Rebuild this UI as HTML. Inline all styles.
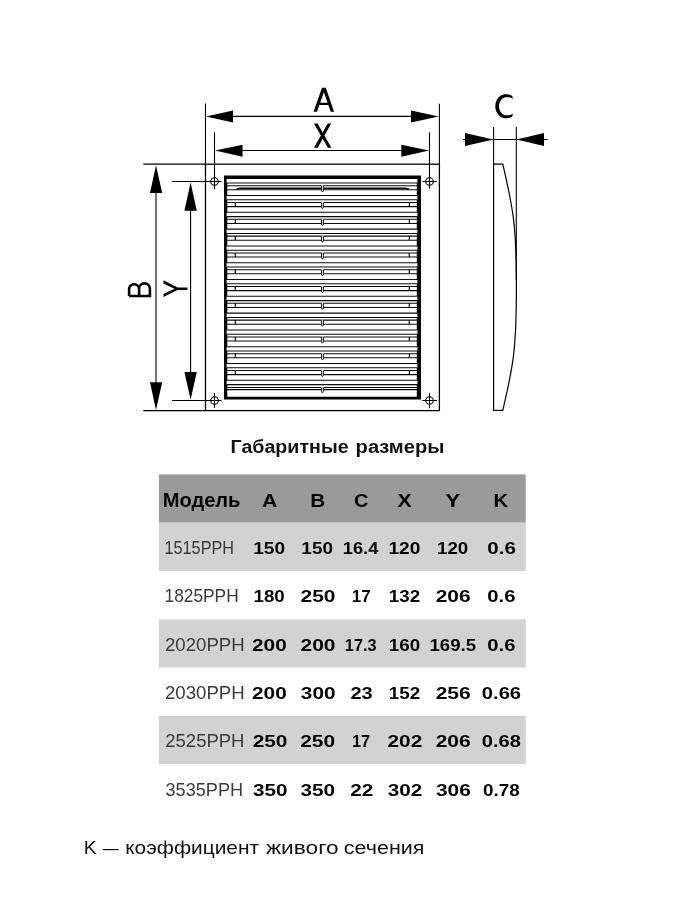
<!DOCTYPE html>
<html><head><meta charset="utf-8">
<style>
html,body{margin:0;padding:0;background:#fff;}
body{width:675px;height:900px;position:relative;overflow:hidden;}
svg{position:absolute;left:0;top:0;will-change:transform;}
text{font-family:"Liberation Sans",sans-serif;}
</style></head><body>
<svg width="675" height="900" viewBox="0 0 675 900">
<rect x="205.5" y="164.2" width="233.9" height="246.4" fill="none" stroke="#000" stroke-width="1.3"/>
<line x1="205.5" y1="103.5" x2="205.5" y2="164.4" stroke="#000" stroke-width="1.1"/>
<line x1="439.4" y1="103.7" x2="439.4" y2="164.4" stroke="#000" stroke-width="1.1"/>
<line x1="143.3" y1="164.2" x2="205.5" y2="164.2" stroke="#000" stroke-width="1.3"/>
<line x1="143.3" y1="410.6" x2="205.5" y2="410.6" stroke="#000" stroke-width="1.3"/>
<line x1="220" y1="116.4" x2="425" y2="116.4" stroke="#000" stroke-width="1.2"/>
<polygon points="206,116.4 233,110.4 233,122.4" fill="#000"/>
<polygon points="438.9,116.4 411,110.4 411,122.4" fill="#000"/>
<line x1="214.5" y1="132" x2="214.5" y2="189.3" stroke="#000" stroke-width="1.1"/>
<line x1="429.5" y1="132.4" x2="429.5" y2="188.7" stroke="#000" stroke-width="1.1"/>
<line x1="230" y1="150.5" x2="415" y2="150.5" stroke="#000" stroke-width="1.2"/>
<polygon points="215,150.5 242.5,144.7 242.5,156.7" fill="#000"/>
<polygon points="429,150.5 401.3,144.7 401.3,156.7" fill="#000"/>
<line x1="156" y1="180" x2="156" y2="395" stroke="#000" stroke-width="1.1"/>
<polygon points="156,165.3 150,193 162.2,193" fill="#000"/>
<polygon points="156,409.9 150,382.2 162.2,382.2" fill="#000"/>
<line x1="172" y1="181.5" x2="221.5" y2="181.5" stroke="#000" stroke-width="1.1"/>
<line x1="172" y1="400.5" x2="221.5" y2="400.5" stroke="#000" stroke-width="1.1"/>
<line x1="190.6" y1="195" x2="190.6" y2="385" stroke="#000" stroke-width="1.1"/>
<polygon points="190.6,182.4 184.4,210.7 196.8,210.7" fill="#000"/>
<polygon points="190.6,399.8 184.4,372 196.8,372" fill="#000"/>
<circle cx="214.5" cy="181.5" r="3.8" fill="none" stroke="#000" stroke-width="1.1"/>
<circle cx="429.5" cy="181.5" r="3.8" fill="none" stroke="#000" stroke-width="1.1"/>
<circle cx="214.5" cy="400.5" r="3.8" fill="none" stroke="#000" stroke-width="1.1"/>
<circle cx="429.5" cy="400.5" r="3.8" fill="none" stroke="#000" stroke-width="1.1"/>
<line x1="422.4" y1="181.5" x2="436.7" y2="181.5" stroke="#000" stroke-width="1"/>
<line x1="214.5" y1="392.9" x2="214.5" y2="408" stroke="#000" stroke-width="1"/>
<line x1="422.2" y1="400.5" x2="437" y2="400.5" stroke="#000" stroke-width="1"/>
<line x1="429.5" y1="393" x2="429.5" y2="408.2" stroke="#000" stroke-width="1"/>
<line x1="493.6" y1="127" x2="493.6" y2="164.2" stroke="#000" stroke-width="1.1"/>
<line x1="516.3" y1="127" x2="516.3" y2="280" stroke="#000" stroke-width="1.1"/>
<line x1="463" y1="139.5" x2="547.6" y2="139.5" stroke="#000" stroke-width="1.1"/>
<polygon points="493.3,139.5 465,133 465,145.9" fill="#000"/>
<polygon points="516.6,139.5 544,133 544,145.9" fill="#000"/>
<path d="M493.6,164.2 H502.8 C513.5,210 516.4,226 516.4,287.25 C516.4,348.5 513.5,364.5 502.8,410.3 H493.6 Z" fill="none" stroke="#000" stroke-width="1.2"/>
<path d="M224,175.4 H421 V399.5 H224 Z M226.6,179 V396.8 H417.4 V179 Z" fill="#000" fill-rule="evenodd"/>
<rect x="226" y="183.00" width="1.3" height="12.5" fill="#000"/>
<rect x="416.8" y="183.00" width="1.2" height="12.5" fill="#000"/>
<line x1="226.6" y1="183.0" x2="417.4" y2="183.0" stroke="#0a0a0a" stroke-width="1.05"/>
<line x1="226.6" y1="185.7" x2="417.4" y2="185.7" stroke="#0a0a0a" stroke-width="1.05"/>
<line x1="226.6" y1="189.8" x2="417.4" y2="189.8" stroke="#0a0a0a" stroke-width="1.05"/>
<line x1="226.6" y1="195.5" x2="417.4" y2="195.5" stroke="#0a0a0a" stroke-width="1.05"/>
<path d="M236.5,189.50 Q238.5,188.30 241,188.30 H404 Q406.5,188.30 409,189.50" fill="none" stroke="#0a0a0a" stroke-width="1.6"/>
<rect x="321.1" y="185.30" width="2.8" height="6.30" fill="#fff"/>
<path d="M321.6,185.70 V190.70 Q321.6,191.60 322.4,191.60 H322.6 Q323.4,191.60 323.4,190.70 V185.70" fill="none" stroke="#0a0a0a" stroke-width="1"/>
<rect x="226" y="199.80" width="1.3" height="12.5" fill="#000"/>
<rect x="416.8" y="199.80" width="1.2" height="12.5" fill="#000"/>
<line x1="226.6" y1="199.8" x2="417.4" y2="199.8" stroke="#0a0a0a" stroke-width="1.05"/>
<line x1="226.6" y1="202.5" x2="417.4" y2="202.5" stroke="#0a0a0a" stroke-width="1.05"/>
<line x1="226.6" y1="206.6" x2="417.4" y2="206.6" stroke="#0a0a0a" stroke-width="1.05"/>
<line x1="226.6" y1="212.3" x2="417.4" y2="212.3" stroke="#0a0a0a" stroke-width="1.05"/>
<line x1="235.3" y1="202.5" x2="235.3" y2="206.6" stroke="#0a0a0a" stroke-width="1.2"/>
<line x1="409.3" y1="202.5" x2="409.3" y2="206.6" stroke="#0a0a0a" stroke-width="1.2"/>
<rect x="321.1" y="202.10" width="2.8" height="6.30" fill="#fff"/>
<path d="M321.6,202.50 V207.50 Q321.6,208.40 322.4,208.40 H322.6 Q323.4,208.40 323.4,207.50 V202.50" fill="none" stroke="#0a0a0a" stroke-width="1"/>
<rect x="226" y="216.60" width="1.3" height="12.5" fill="#000"/>
<rect x="416.8" y="216.60" width="1.2" height="12.5" fill="#000"/>
<line x1="226.6" y1="216.6" x2="417.4" y2="216.6" stroke="#0a0a0a" stroke-width="1.05"/>
<line x1="226.6" y1="219.3" x2="417.4" y2="219.3" stroke="#0a0a0a" stroke-width="1.05"/>
<line x1="226.6" y1="223.4" x2="417.4" y2="223.4" stroke="#0a0a0a" stroke-width="1.05"/>
<line x1="226.6" y1="229.1" x2="417.4" y2="229.1" stroke="#0a0a0a" stroke-width="1.05"/>
<line x1="235.3" y1="219.3" x2="235.3" y2="223.4" stroke="#0a0a0a" stroke-width="1.2"/>
<line x1="409.3" y1="219.3" x2="409.3" y2="223.4" stroke="#0a0a0a" stroke-width="1.2"/>
<rect x="321.1" y="218.90" width="2.8" height="6.30" fill="#fff"/>
<path d="M321.6,219.30 V224.30 Q321.6,225.20 322.4,225.20 H322.6 Q323.4,225.20 323.4,224.30 V219.30" fill="none" stroke="#0a0a0a" stroke-width="1"/>
<rect x="226" y="233.40" width="1.3" height="12.5" fill="#000"/>
<rect x="416.8" y="233.40" width="1.2" height="12.5" fill="#000"/>
<line x1="226.6" y1="233.4" x2="417.4" y2="233.4" stroke="#0a0a0a" stroke-width="1.05"/>
<line x1="226.6" y1="236.1" x2="417.4" y2="236.1" stroke="#0a0a0a" stroke-width="1.05"/>
<line x1="226.6" y1="240.2" x2="417.4" y2="240.2" stroke="#0a0a0a" stroke-width="1.05"/>
<line x1="226.6" y1="245.9" x2="417.4" y2="245.9" stroke="#0a0a0a" stroke-width="1.05"/>
<line x1="235.3" y1="236.1" x2="235.3" y2="240.2" stroke="#0a0a0a" stroke-width="1.2"/>
<line x1="409.3" y1="236.1" x2="409.3" y2="240.2" stroke="#0a0a0a" stroke-width="1.2"/>
<rect x="321.1" y="235.70" width="2.8" height="6.30" fill="#fff"/>
<path d="M321.6,236.10 V241.10 Q321.6,242.00 322.4,242.00 H322.6 Q323.4,242.00 323.4,241.10 V236.10" fill="none" stroke="#0a0a0a" stroke-width="1"/>
<rect x="226" y="250.20" width="1.3" height="12.5" fill="#000"/>
<rect x="416.8" y="250.20" width="1.2" height="12.5" fill="#000"/>
<line x1="226.6" y1="250.2" x2="417.4" y2="250.2" stroke="#0a0a0a" stroke-width="1.05"/>
<line x1="226.6" y1="252.9" x2="417.4" y2="252.9" stroke="#0a0a0a" stroke-width="1.05"/>
<line x1="226.6" y1="257.0" x2="417.4" y2="257.0" stroke="#0a0a0a" stroke-width="1.05"/>
<line x1="226.6" y1="262.7" x2="417.4" y2="262.7" stroke="#0a0a0a" stroke-width="1.05"/>
<line x1="235.3" y1="252.9" x2="235.3" y2="257.0" stroke="#0a0a0a" stroke-width="1.2"/>
<line x1="409.3" y1="252.9" x2="409.3" y2="257.0" stroke="#0a0a0a" stroke-width="1.2"/>
<rect x="321.1" y="252.50" width="2.8" height="6.30" fill="#fff"/>
<path d="M321.6,252.90 V257.90 Q321.6,258.80 322.4,258.80 H322.6 Q323.4,258.80 323.4,257.90 V252.90" fill="none" stroke="#0a0a0a" stroke-width="1"/>
<rect x="226" y="267.00" width="1.3" height="12.5" fill="#000"/>
<rect x="416.8" y="267.00" width="1.2" height="12.5" fill="#000"/>
<line x1="226.6" y1="267.0" x2="417.4" y2="267.0" stroke="#0a0a0a" stroke-width="1.05"/>
<line x1="226.6" y1="269.7" x2="417.4" y2="269.7" stroke="#0a0a0a" stroke-width="1.05"/>
<line x1="226.6" y1="273.8" x2="417.4" y2="273.8" stroke="#0a0a0a" stroke-width="1.05"/>
<line x1="226.6" y1="279.5" x2="417.4" y2="279.5" stroke="#0a0a0a" stroke-width="1.05"/>
<line x1="235.3" y1="269.7" x2="235.3" y2="273.8" stroke="#0a0a0a" stroke-width="1.2"/>
<line x1="409.3" y1="269.7" x2="409.3" y2="273.8" stroke="#0a0a0a" stroke-width="1.2"/>
<rect x="321.1" y="269.30" width="2.8" height="6.30" fill="#fff"/>
<path d="M321.6,269.70 V274.70 Q321.6,275.60 322.4,275.60 H322.6 Q323.4,275.60 323.4,274.70 V269.70" fill="none" stroke="#0a0a0a" stroke-width="1"/>
<rect x="226" y="283.80" width="1.3" height="12.5" fill="#000"/>
<rect x="416.8" y="283.80" width="1.2" height="12.5" fill="#000"/>
<line x1="226.6" y1="283.8" x2="417.4" y2="283.8" stroke="#0a0a0a" stroke-width="1.05"/>
<line x1="226.6" y1="286.5" x2="417.4" y2="286.5" stroke="#0a0a0a" stroke-width="1.05"/>
<line x1="226.6" y1="290.6" x2="417.4" y2="290.6" stroke="#0a0a0a" stroke-width="1.05"/>
<line x1="226.6" y1="296.3" x2="417.4" y2="296.3" stroke="#0a0a0a" stroke-width="1.05"/>
<line x1="235.3" y1="286.5" x2="235.3" y2="290.6" stroke="#0a0a0a" stroke-width="1.2"/>
<line x1="409.3" y1="286.5" x2="409.3" y2="290.6" stroke="#0a0a0a" stroke-width="1.2"/>
<rect x="321.1" y="286.10" width="2.8" height="6.30" fill="#fff"/>
<path d="M321.6,286.50 V291.50 Q321.6,292.40 322.4,292.40 H322.6 Q323.4,292.40 323.4,291.50 V286.50" fill="none" stroke="#0a0a0a" stroke-width="1"/>
<rect x="226" y="300.60" width="1.3" height="12.5" fill="#000"/>
<rect x="416.8" y="300.60" width="1.2" height="12.5" fill="#000"/>
<line x1="226.6" y1="300.6" x2="417.4" y2="300.6" stroke="#0a0a0a" stroke-width="1.05"/>
<line x1="226.6" y1="303.3" x2="417.4" y2="303.3" stroke="#0a0a0a" stroke-width="1.05"/>
<line x1="226.6" y1="307.4" x2="417.4" y2="307.4" stroke="#0a0a0a" stroke-width="1.05"/>
<line x1="226.6" y1="313.1" x2="417.4" y2="313.1" stroke="#0a0a0a" stroke-width="1.05"/>
<line x1="235.3" y1="303.3" x2="235.3" y2="307.4" stroke="#0a0a0a" stroke-width="1.2"/>
<line x1="409.3" y1="303.3" x2="409.3" y2="307.4" stroke="#0a0a0a" stroke-width="1.2"/>
<rect x="321.1" y="302.90" width="2.8" height="6.30" fill="#fff"/>
<path d="M321.6,303.30 V308.30 Q321.6,309.20 322.4,309.20 H322.6 Q323.4,309.20 323.4,308.30 V303.30" fill="none" stroke="#0a0a0a" stroke-width="1"/>
<rect x="226" y="317.40" width="1.3" height="12.5" fill="#000"/>
<rect x="416.8" y="317.40" width="1.2" height="12.5" fill="#000"/>
<line x1="226.6" y1="317.4" x2="417.4" y2="317.4" stroke="#0a0a0a" stroke-width="1.05"/>
<line x1="226.6" y1="320.1" x2="417.4" y2="320.1" stroke="#0a0a0a" stroke-width="1.05"/>
<line x1="226.6" y1="324.2" x2="417.4" y2="324.2" stroke="#0a0a0a" stroke-width="1.05"/>
<line x1="226.6" y1="329.9" x2="417.4" y2="329.9" stroke="#0a0a0a" stroke-width="1.05"/>
<line x1="235.3" y1="320.1" x2="235.3" y2="324.2" stroke="#0a0a0a" stroke-width="1.2"/>
<line x1="409.3" y1="320.1" x2="409.3" y2="324.2" stroke="#0a0a0a" stroke-width="1.2"/>
<rect x="321.1" y="319.70" width="2.8" height="6.30" fill="#fff"/>
<path d="M321.6,320.10 V325.10 Q321.6,326.00 322.4,326.00 H322.6 Q323.4,326.00 323.4,325.10 V320.10" fill="none" stroke="#0a0a0a" stroke-width="1"/>
<rect x="226" y="334.20" width="1.3" height="12.5" fill="#000"/>
<rect x="416.8" y="334.20" width="1.2" height="12.5" fill="#000"/>
<line x1="226.6" y1="334.2" x2="417.4" y2="334.2" stroke="#0a0a0a" stroke-width="1.05"/>
<line x1="226.6" y1="336.9" x2="417.4" y2="336.9" stroke="#0a0a0a" stroke-width="1.05"/>
<line x1="226.6" y1="341.0" x2="417.4" y2="341.0" stroke="#0a0a0a" stroke-width="1.05"/>
<line x1="226.6" y1="346.7" x2="417.4" y2="346.7" stroke="#0a0a0a" stroke-width="1.05"/>
<line x1="235.3" y1="336.9" x2="235.3" y2="341.0" stroke="#0a0a0a" stroke-width="1.2"/>
<line x1="409.3" y1="336.9" x2="409.3" y2="341.0" stroke="#0a0a0a" stroke-width="1.2"/>
<rect x="321.1" y="336.50" width="2.8" height="6.30" fill="#fff"/>
<path d="M321.6,336.90 V341.90 Q321.6,342.80 322.4,342.80 H322.6 Q323.4,342.80 323.4,341.90 V336.90" fill="none" stroke="#0a0a0a" stroke-width="1"/>
<rect x="226" y="351.00" width="1.3" height="12.5" fill="#000"/>
<rect x="416.8" y="351.00" width="1.2" height="12.5" fill="#000"/>
<line x1="226.6" y1="351.0" x2="417.4" y2="351.0" stroke="#0a0a0a" stroke-width="1.05"/>
<line x1="226.6" y1="353.7" x2="417.4" y2="353.7" stroke="#0a0a0a" stroke-width="1.05"/>
<line x1="226.6" y1="357.8" x2="417.4" y2="357.8" stroke="#0a0a0a" stroke-width="1.05"/>
<line x1="226.6" y1="363.5" x2="417.4" y2="363.5" stroke="#0a0a0a" stroke-width="1.05"/>
<line x1="235.3" y1="353.7" x2="235.3" y2="357.8" stroke="#0a0a0a" stroke-width="1.2"/>
<line x1="409.3" y1="353.7" x2="409.3" y2="357.8" stroke="#0a0a0a" stroke-width="1.2"/>
<rect x="321.1" y="353.30" width="2.8" height="6.30" fill="#fff"/>
<path d="M321.6,353.70 V358.70 Q321.6,359.60 322.4,359.60 H322.6 Q323.4,359.60 323.4,358.70 V353.70" fill="none" stroke="#0a0a0a" stroke-width="1"/>
<rect x="226" y="367.80" width="1.3" height="12.5" fill="#000"/>
<rect x="416.8" y="367.80" width="1.2" height="12.5" fill="#000"/>
<line x1="226.6" y1="367.8" x2="417.4" y2="367.8" stroke="#0a0a0a" stroke-width="1.05"/>
<line x1="226.6" y1="370.5" x2="417.4" y2="370.5" stroke="#0a0a0a" stroke-width="1.05"/>
<line x1="226.6" y1="374.6" x2="417.4" y2="374.6" stroke="#0a0a0a" stroke-width="1.05"/>
<line x1="226.6" y1="380.3" x2="417.4" y2="380.3" stroke="#0a0a0a" stroke-width="1.05"/>
<line x1="235.3" y1="370.5" x2="235.3" y2="374.6" stroke="#0a0a0a" stroke-width="1.2"/>
<line x1="409.3" y1="370.5" x2="409.3" y2="374.6" stroke="#0a0a0a" stroke-width="1.2"/>
<rect x="321.1" y="370.10" width="2.8" height="6.30" fill="#fff"/>
<path d="M321.6,370.50 V375.50 Q321.6,376.40 322.4,376.40 H322.6 Q323.4,376.40 323.4,375.50 V370.50" fill="none" stroke="#0a0a0a" stroke-width="1"/>
<rect x="226" y="384.60" width="1.3" height="13" fill="#000"/>
<rect x="416.8" y="384.60" width="1.2" height="13" fill="#000"/>
<line x1="226.6" y1="384.6" x2="417.4" y2="384.6" stroke="#0a0a0a" stroke-width="1.05"/>
<line x1="226.6" y1="387.4" x2="417.4" y2="387.4" stroke="#0a0a0a" stroke-width="1.05"/>
<line x1="226.6" y1="389.6" x2="417.4" y2="389.6" stroke="#0a0a0a" stroke-width="1.05"/>
<rect x="321.1" y="387.00" width="2.8" height="5.60" fill="#fff"/>
<path d="M321.6,387.40 V391.70 Q321.6,392.60 322.4,392.60 H322.6 Q323.4,392.60 323.4,391.70 V387.40" fill="none" stroke="#0a0a0a" stroke-width="1"/>

<path d="M313.5,111.7 L322,87.8 L325.8,87.8 L334.1,111.7 L330.7,111.7 L328.3,104.9 L319.4,104.9 L317,111.7 Z M320.2,102.7 L327.6,102.7 L323.9,92.2 Z" fill="#000" fill-rule="evenodd"/>
<path d="M313.9,123.6 L317.5,123.6 L331.4,147.7 L327.9,147.7 Z M327.7,123.6 L331.2,123.6 L317.7,147.7 L313.9,147.7 Z" fill="#000"/>
<path d="M163.5,280.2 L177.6,287.4 L187.5,287.4 L187.5,289.9 L177.6,289.9 L163.5,297 L163.5,293.9 L174.5,288.65 L163.5,283.4 Z" fill="#000"/>
<path d="M129.1,296 H149.9 V288.8 A5.4,5.4 0 0 0 139.1,288.8 V296 M139.1,289.2 A5,5 0 0 0 129.1,289.2 V296" fill="none" stroke="#000" stroke-width="2.6"/>
<clipPath id="cc"><rect x="480" y="80" width="32.6" height="50"/></clipPath><path clip-path="url(#cc)" fill-rule="evenodd" fill="#000" d="M515.50,106.25 L515.49,107.49 L515.46,108.35 L515.40,109.12 L515.33,109.82 L515.23,110.47 L515.12,111.09 L514.98,111.68 L514.82,112.23 L514.64,112.76 L514.44,113.26 L514.22,113.74 L513.98,114.19 L513.72,114.62 L513.44,115.02 L513.14,115.40 L512.81,115.76 L512.47,116.09 L512.11,116.40 L511.73,116.69 L511.33,116.95 L510.90,117.18 L510.46,117.40 L509.99,117.58 L509.49,117.75 L508.97,117.89 L508.42,118.00 L507.82,118.09 L507.18,118.15 L506.44,118.19 L505.40,118.20 L504.87,118.18 L504.34,118.13 L503.82,118.05 L503.30,117.94 L502.79,117.79 L502.28,117.62 L501.78,117.41 L501.29,117.17 L500.81,116.90 L500.35,116.60 L499.90,116.27 L499.46,115.92 L499.04,115.54 L498.64,115.13 L498.26,114.70 L497.89,114.25 L497.55,113.77 L497.23,113.27 L496.93,112.76 L496.65,112.22 L496.40,111.68 L496.17,111.11 L495.97,110.53 L495.79,109.94 L495.64,109.34 L495.52,108.73 L495.42,108.12 L495.36,107.50 L495.31,106.88 L495.30,106.25 L495.31,105.62 L495.36,105.00 L495.42,104.38 L495.52,103.77 L495.64,103.16 L495.79,102.56 L495.97,101.97 L496.17,101.39 L496.40,100.82 L496.65,100.28 L496.93,99.74 L497.23,99.23 L497.55,98.73 L497.89,98.25 L498.26,97.80 L498.64,97.37 L499.04,96.96 L499.46,96.58 L499.90,96.23 L500.35,95.90 L500.81,95.60 L501.29,95.33 L501.78,95.09 L502.28,94.88 L502.79,94.71 L503.30,94.56 L503.82,94.45 L504.34,94.37 L504.87,94.32 L505.40,94.30 L506.44,94.31 L507.18,94.35 L507.82,94.41 L508.42,94.50 L508.97,94.61 L509.49,94.75 L509.99,94.92 L510.46,95.10 L510.90,95.32 L511.33,95.55 L511.73,95.81 L512.11,96.10 L512.47,96.41 L512.81,96.74 L513.14,97.10 L513.44,97.48 L513.72,97.88 L513.98,98.31 L514.22,98.76 L514.44,99.24 L514.64,99.74 L514.82,100.27 L514.98,100.82 L515.12,101.41 L515.23,102.03 L515.33,102.68 L515.40,103.38 L515.46,104.15 L515.49,105.01 Z M514.20,106.25 L514.19,107.52 L514.17,108.27 L514.14,108.89 L514.09,109.44 L514.03,109.95 L513.95,110.41 L513.86,110.84 L513.76,111.25 L513.64,111.63 L513.51,111.98 L513.36,112.32 L513.20,112.64 L513.02,112.93 L512.84,113.21 L512.63,113.47 L512.41,113.72 L512.18,113.94 L511.93,114.15 L511.67,114.34 L511.39,114.52 L511.09,114.68 L510.77,114.82 L510.43,114.94 L510.07,115.05 L509.69,115.14 L509.27,115.22 L508.81,115.28 L508.29,115.32 L507.66,115.34 L506.60,115.35 L506.20,115.34 L505.81,115.30 L505.41,115.24 L505.02,115.15 L504.63,115.04 L504.25,114.90 L503.88,114.75 L503.51,114.56 L503.15,114.36 L502.80,114.13 L502.46,113.88 L502.13,113.61 L501.82,113.32 L501.51,113.01 L501.23,112.68 L500.95,112.34 L500.69,111.98 L500.45,111.60 L500.23,111.21 L500.02,110.80 L499.83,110.38 L499.66,109.95 L499.50,109.51 L499.37,109.06 L499.26,108.61 L499.17,108.14 L499.09,107.67 L499.04,107.20 L499.01,106.73 L499.00,106.25 L499.01,105.77 L499.04,105.30 L499.09,104.83 L499.17,104.36 L499.26,103.89 L499.37,103.44 L499.50,102.99 L499.66,102.55 L499.83,102.12 L500.02,101.70 L500.23,101.29 L500.45,100.90 L500.69,100.52 L500.95,100.16 L501.23,99.82 L501.51,99.49 L501.82,99.18 L502.13,98.89 L502.46,98.62 L502.80,98.37 L503.15,98.14 L503.51,97.94 L503.88,97.75 L504.25,97.60 L504.63,97.46 L505.02,97.35 L505.41,97.26 L505.81,97.20 L506.20,97.16 L506.60,97.15 L507.66,97.16 L508.29,97.18 L508.81,97.22 L509.27,97.28 L509.69,97.36 L510.07,97.45 L510.43,97.56 L510.77,97.68 L511.09,97.82 L511.39,97.98 L511.67,98.16 L511.93,98.35 L512.18,98.56 L512.41,98.78 L512.63,99.03 L512.84,99.29 L513.02,99.57 L513.20,99.86 L513.36,100.18 L513.51,100.52 L513.64,100.87 L513.76,101.25 L513.86,101.66 L513.95,102.09 L514.03,102.55 L514.09,103.06 L514.14,103.61 L514.17,104.23 L514.19,104.98 Z"/>

<rect x="158.9" y="474.4" width="366.8" height="48.3" fill="#9a9a9a"/><rect x="158.9" y="522.70" width="366.8" height="48.3" fill="#d2d2d2"/><rect x="158.9" y="619.30" width="366.8" height="48.3" fill="#d2d2d2"/><rect x="158.9" y="715.90" width="366.8" height="48.3" fill="#d2d2d2"/>
<text transform="matrix(1.0340,0,0,1,230.51,0)" x="0" y="453.3" font-weight="bold" font-size="19" fill="#111">Габаритные</text>
<text transform="matrix(1.0609,0,0,1,355.57,0)" x="0" y="453.3" font-weight="bold" font-size="19" fill="#111">размеры</text>
<text transform="matrix(1.0447,0,0,1,83.73,0)" x="0" y="854.0" font-weight="normal" font-size="18.6" fill="#111">K</text>
<text transform="matrix(0.8430,0,0,1,103.10,0)" x="0" y="854.0" font-weight="normal" font-size="18.6" fill="#111">—</text>
<text transform="matrix(1.1219,0,0,1,125.20,0)" x="0" y="854.0" font-weight="normal" font-size="18.6" fill="#111">коэффициент</text>
<text transform="matrix(1.2196,0,0,1,265.95,0)" x="0" y="854.0" font-weight="normal" font-size="18.6" fill="#111">живого</text>
<text transform="matrix(1.1542,0,0,1,343.83,0)" x="0" y="854.0" font-weight="normal" font-size="18.6" fill="#111">сечения</text>
<text transform="matrix(1.0151,0,0,1,162.70,0)" x="0" y="506.7" font-weight="bold" font-size="19.8" fill="#050505">Модель</text>
<text transform="matrix(1.1029,0,0,1,262.05,0)" x="0" y="506.7" font-weight="bold" font-size="19.2" fill="#050505">A</text>
<text transform="matrix(1.0809,0,0,1,310.15,0)" x="0" y="506.7" font-weight="bold" font-size="19.2" fill="#050505">B</text>
<text transform="matrix(1.0480,0,0,1,354.11,0)" x="0" y="506.7" font-weight="bold" font-size="19.2" fill="#050505">C</text>
<text transform="matrix(1.1071,0,0,1,397.52,0)" x="0" y="506.7" font-weight="bold" font-size="19.2" fill="#050505">X</text>
<text transform="matrix(1.1794,0,0,1,445.26,0)" x="0" y="506.7" font-weight="bold" font-size="19.2" fill="#050505">Y</text>
<text transform="matrix(1.0586,0,0,1,493.58,0)" x="0" y="506.7" font-weight="bold" font-size="19.2" fill="#050505">K</text>
<text transform="matrix(0.9289,0,0,1,164.52,0)" x="0" y="554.2" font-weight="normal" font-size="17.5" fill="#3a3a3a">1515PPH</text>
<text transform="matrix(1.1126,0,0,1,253.15,0)" x="0" y="554.2" font-weight="bold" font-size="17.2" fill="#050505">150</text>
<text transform="matrix(1.1014,0,0,1,301.36,0)" x="0" y="554.2" font-weight="bold" font-size="17.2" fill="#050505">150</text>
<text transform="matrix(1.0605,0,0,1,342.81,0)" x="0" y="554.2" font-weight="bold" font-size="17.2" fill="#050505">16.4</text>
<text transform="matrix(1.1126,0,0,1,388.45,0)" x="0" y="554.2" font-weight="bold" font-size="17.2" fill="#050505">120</text>
<text transform="matrix(1.0865,0,0,1,437.08,0)" x="0" y="554.2" font-weight="bold" font-size="17.2" fill="#050505">120</text>
<text transform="matrix(1.1978,0,0,1,487.25,0)" x="0" y="554.2" font-weight="bold" font-size="17.2" fill="#050505">0.6</text>
<text transform="matrix(0.9899,0,0,1,164.54,0)" x="0" y="602.5" font-weight="normal" font-size="17.5" fill="#3a3a3a">1825PPH</text>
<text transform="matrix(1.0902,0,0,1,253.47,0)" x="0" y="602.5" font-weight="bold" font-size="17.2" fill="#050505">180</text>
<text transform="matrix(1.2201,0,0,1,300.54,0)" x="0" y="602.5" font-weight="bold" font-size="17.2" fill="#050505">250</text>
<text transform="matrix(0.9913,0,0,1,351.68,0)" x="0" y="602.5" font-weight="bold" font-size="17.2" fill="#050505">17</text>
<text transform="matrix(1.0940,0,0,1,388.87,0)" x="0" y="602.5" font-weight="bold" font-size="17.2" fill="#050505">132</text>
<text transform="matrix(1.2145,0,0,1,435.74,0)" x="0" y="602.5" font-weight="bold" font-size="17.2" fill="#050505">206</text>
<text transform="matrix(1.1801,0,0,1,487.26,0)" x="0" y="602.5" font-weight="bold" font-size="17.2" fill="#050505">0.6</text>
<text transform="matrix(1.0644,0,0,1,164.97,0)" x="0" y="650.8000000000001" font-weight="normal" font-size="17.5" fill="#3a3a3a">2020PPH</text>
<text transform="matrix(1.2091,0,0,1,252.04,0)" x="0" y="650.8000000000001" font-weight="bold" font-size="17.2" fill="#050505">200</text>
<text transform="matrix(1.2201,0,0,1,300.54,0)" x="0" y="650.8000000000001" font-weight="bold" font-size="17.2" fill="#050505">200</text>
<text transform="matrix(0.9480,0,0,1,344.83,0)" x="0" y="650.8000000000001" font-weight="bold" font-size="17.2" fill="#050505">17.3</text>
<text transform="matrix(1.0940,0,0,1,388.87,0)" x="0" y="650.8000000000001" font-weight="bold" font-size="17.2" fill="#050505">160</text>
<text transform="matrix(1.0828,0,0,1,429.48,0)" x="0" y="650.8000000000001" font-weight="bold" font-size="17.2" fill="#050505">169.5</text>
<text transform="matrix(1.1801,0,0,1,487.26,0)" x="0" y="650.8000000000001" font-weight="bold" font-size="17.2" fill="#050505">0.6</text>
<text transform="matrix(1.0644,0,0,1,164.97,0)" x="0" y="699.1" font-weight="normal" font-size="17.5" fill="#3a3a3a">2030PPH</text>
<text transform="matrix(1.2091,0,0,1,252.04,0)" x="0" y="699.1" font-weight="bold" font-size="17.2" fill="#050505">200</text>
<text transform="matrix(1.2090,0,0,1,300.85,0)" x="0" y="699.1" font-weight="bold" font-size="17.2" fill="#050505">300</text>
<text transform="matrix(1.1636,0,0,1,350.47,0)" x="0" y="699.1" font-weight="bold" font-size="17.2" fill="#050505">23</text>
<text transform="matrix(1.0940,0,0,1,388.87,0)" x="0" y="699.1" font-weight="bold" font-size="17.2" fill="#050505">152</text>
<text transform="matrix(1.2255,0,0,1,435.63,0)" x="0" y="699.1" font-weight="bold" font-size="17.2" fill="#050505">256</text>
<text transform="matrix(1.1721,0,0,1,481.87,0)" x="0" y="699.1" font-weight="bold" font-size="17.2" fill="#050505">0.66</text>
<text transform="matrix(1.0575,0,0,1,165.27,0)" x="0" y="747.4000000000001" font-weight="normal" font-size="17.5" fill="#3a3a3a">2525PPH</text>
<text transform="matrix(1.2128,0,0,1,252.64,0)" x="0" y="747.4000000000001" font-weight="bold" font-size="17.2" fill="#050505">250</text>
<text transform="matrix(1.2164,0,0,1,300.24,0)" x="0" y="747.4000000000001" font-weight="bold" font-size="17.2" fill="#050505">250</text>
<text transform="matrix(0.9565,0,0,1,351.92,0)" x="0" y="747.4000000000001" font-weight="bold" font-size="17.2" fill="#050505">17</text>
<text transform="matrix(1.2128,0,0,1,387.44,0)" x="0" y="747.4000000000001" font-weight="bold" font-size="17.2" fill="#050505">202</text>
<text transform="matrix(1.2255,0,0,1,435.63,0)" x="0" y="747.4000000000001" font-weight="bold" font-size="17.2" fill="#050505">206</text>
<text transform="matrix(1.1676,0,0,1,481.87,0)" x="0" y="747.4000000000001" font-weight="bold" font-size="17.2" fill="#050505">0.68</text>
<text transform="matrix(1.0360,0,0,1,165.55,0)" x="0" y="795.7" font-weight="normal" font-size="17.5" fill="#3a3a3a">3535PPH</text>
<text transform="matrix(1.2018,0,0,1,252.95,0)" x="0" y="795.7" font-weight="bold" font-size="17.2" fill="#050505">350</text>
<text transform="matrix(1.2054,0,0,1,300.55,0)" x="0" y="795.7" font-weight="bold" font-size="17.2" fill="#050505">350</text>
<text transform="matrix(1.2028,0,0,1,350.15,0)" x="0" y="795.7" font-weight="bold" font-size="17.2" fill="#050505">22</text>
<text transform="matrix(1.2018,0,0,1,387.75,0)" x="0" y="795.7" font-weight="bold" font-size="17.2" fill="#050505">302</text>
<text transform="matrix(1.2144,0,0,1,435.94,0)" x="0" y="795.7" font-weight="bold" font-size="17.2" fill="#050505">306</text>
<text transform="matrix(1.0996,0,0,1,482.91,0)" x="0" y="795.7" font-weight="bold" font-size="17.2" fill="#050505">0.78</text>
</svg>
</body></html>
